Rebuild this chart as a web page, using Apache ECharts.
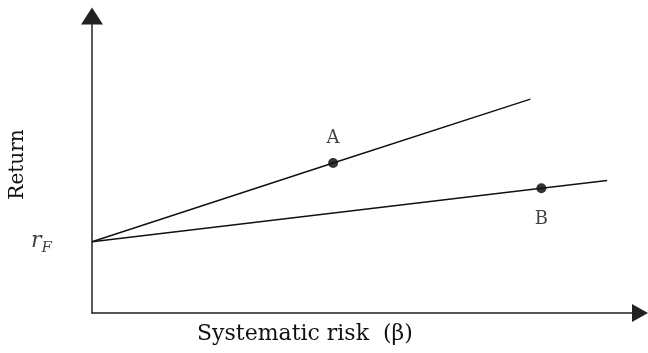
<!DOCTYPE html>
<html>
<head>
<meta charset="utf-8">
<script src="https://cdn.jsdelivr.net/npm/echarts@6/dist/echarts.min.js"></script>
<style>
  html, body { margin: 0; padding: 0; background: #fff; }
  #chart { width: 648px; height: 353px; }
</style>
</head>
<body>
<div id="chart"></div>
<script>
// risk-free rate and the two security market lines (beta, return)
const riskFree = 2.4;
const lineA = [[0, 2.4], [4.4, 5.05], [8.0, 7.2]];
const lineB = [[0, 2.4], [8.2, 4.2], [9.4, 4.46]];
const points = [
  { name: 'A', value: [4.4, 5.05], pos: 'top' },
  { name: 'B', value: [8.2, 4.2], pos: 'bottom' }
];
const xTitle = 'Systematic risk  (\u03b2)';
const yTitle = 'Return';

const chart = echarts.init(document.getElementById('chart'));
const serif = 'DejaVu Serif';

const axisLine = (size) => ({
  show: true,
  symbol: ['none', 'triangle'],
  symbolSize: size,
  lineStyle: { color: '#222', width: 1.5 }
});

const option = {
  animation: false,
  backgroundColor: '#fff',
  grid: { left: 92, right: 8, top: 16, bottom: 40 },
  xAxis: {
    type: 'value',
    min: 0,
    max: 10,
    axisLine: axisLine([18, 16]),
    axisTick: { show: false },
    axisLabel: { show: false },
    splitLine: { show: false }
  },
  yAxis: {
    type: 'value',
    min: 0,
    max: 10,
    name: yTitle,
    nameLocation: 'middle',
    nameRotate: 90,
    nameGap: 64,
    nameTextStyle: { fontFamily: serif, fontSize: 20, color: '#111' },
    axisLine: axisLine([22, 17]),
    axisTick: { show: false },
    axisLabel: { show: false },
    splitLine: { show: false }
  },
  series: [
    {
      type: 'line',
      data: lineA,
      showSymbol: false,
      lineStyle: { color: '#111', width: 1.4 }
    },
    {
      type: 'line',
      data: lineB,
      showSymbol: false,
      lineStyle: { color: '#111', width: 1.4 }
    },
    {
      type: 'scatter',
      symbolSize: 10,
      itemStyle: { color: '#000' },
      data: points.map(p => ({
        name: p.name,
        value: p.value,
        label: {
          show: true,
          position: p.pos,
          distance: p.pos === 'top' ? 11 : 17,
          formatter: '{b}',
          fontFamily: serif,
          fontSize: 18,
          color: '#111'
        }
      }))
    },
    {
      // r_F label beside the vertical axis
      type: 'scatter',
      symbolSize: 0,
      silent: true,
      data: [[0, riskFree]],
      label: {
        show: true,
        position: 'left',
        distance: 40,
        formatter: '{r|r}{f|F}',
        rich: {
          r: { fontFamily: serif, fontStyle: 'italic', fontSize: 22, color: '#111' },
          f: { fontFamily: serif, fontStyle: 'italic', fontSize: 15, color: '#111', padding: [12, 0, 0, 0] }
        }
      }
    }
  ],
  graphic: [
    {
      type: 'text',
      left: 197,
      top: 323,
      style: { text: xTitle, fontFamily: serif, fontSize: 22, fill: '#111' }
    }
  ]
};

chart.setOption(option);
</script>
</body>
</html>
